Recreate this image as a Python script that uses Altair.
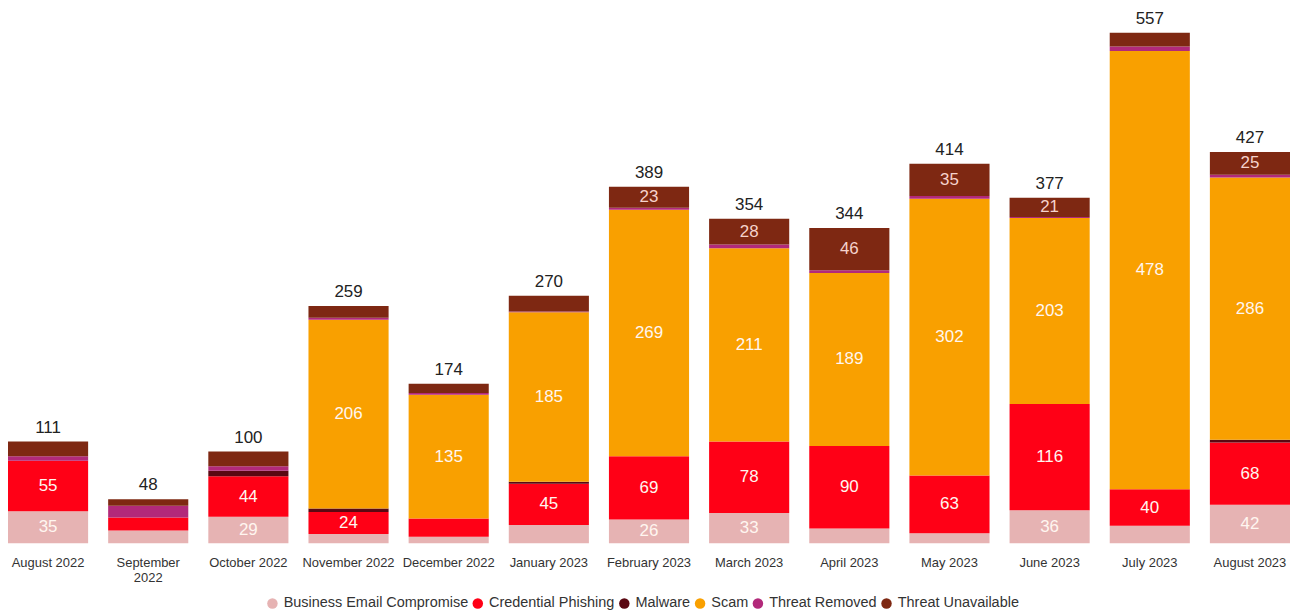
import altair as alt
import pandas as pd

months = ["August 2022", "September 2022", "October 2022", "November 2022",
          "December 2022", "January 2023", "February 2023", "March 2023",
          "April 2023", "May 2023", "June 2023", "July 2023", "August 2023"]

categories = ["Business Email Compromise", "Credential Phishing", "Malware",
              "Scam", "Threat Removed", "Threat Unavailable"]
colors = ["#E6B3B3", "#FF0016", "#5A0812", "#F9A000", "#B2297A", "#7E2812"]

bec = [35, 14, 29, 10, 7, 20, 26, 33, 16, 11, 36, 19, 42]
cred_phishing = [55, 14, 44, 24, 20, 45, 69, 78, 90, 63, 116, 40, 68]
malware = [0, 0, 6, 4, 0, 2, 0, 0, 0, 0, 0, 0, 3]
scam = [0, 0, 0, 206, 135, 185, 269, 211, 189, 302, 203, 478, 286]
threat_removed = [5, 13, 5, 2, 2, 1, 2, 4, 3, 3, 1, 5, 3]
threat_unavailable = [16, 7, 16, 13, 10, 17, 23, 28, 46, 35, 21, 15, 25]

series = [bec, cred_phishing, malware, scam, threat_removed, threat_unavailable]

rows = []
for ci, (cat, vals) in enumerate(zip(categories, series)):
    for m, v in zip(months, vals):
        rows.append({"month": m, "category": cat, "order": ci, "value": v})
df = pd.DataFrame(rows)

FONT = "Liberation Sans"

base = alt.Chart(df).transform_filter("datum.value > 0").transform_stack(
    stack="value", groupby=["month"], sort=[alt.SortField("order")], as_=["y0", "y1"]
)

xenc = alt.X("month:N", sort=months, title=None,
             scale=alt.Scale(paddingInner=0.2, paddingOuter=0.0),
             axis=alt.Axis(labelAngle=0, domain=False, ticks=False, labelPadding=13,
                           labelFontSize=13, labelColor="#333333", labelFont=FONT,
                           labelLineHeight=15,
                           labelExpr="datum.value == 'September 2022' ? ['September', '2022'] : datum.value"))
yscale = alt.Scale(domain=[0, 583], nice=False)

bars = base.mark_bar().encode(
    x=xenc,
    y=alt.Y("y0:Q", scale=yscale, axis=None),
    y2="y1:Q",
    color=alt.Color("category:N", sort=categories,
                    scale=alt.Scale(domain=categories, range=colors),
                    legend=alt.Legend(title=None, orient="none", direction="horizontal",
                                      legendX=258, legendY=589, symbolType="circle",
                                      symbolSize=110, symbolStrokeWidth=0,
                                      labelFontSize=14.5, labelFont=FONT, labelLimit=400,
                                      labelColor="#333333", columnPadding=2,
                                      labelOffset=4, padding=0)),
)

seg_labels = base.transform_filter("datum.value >= 21").transform_calculate(
    mid="(datum.y0 + datum.y1) / 2",
    tcol="datum.category == 'Threat Unavailable' ? '#F6D3CC' : '#FFF6F0'",
).mark_text(fontSize=17, font=FONT, baseline="middle").encode(
    x=alt.X("month:N", sort=months),
    y=alt.Y("mid:Q", scale=yscale),
    text="value:Q",
    color=alt.Color("tcol:N", scale=None),
)

totals = alt.Chart(df).transform_aggregate(
    total="sum(value)", groupby=["month"]
).mark_text(fontSize=17, font=FONT, baseline="bottom", dy=-5, color="#222222").encode(
    x=alt.X("month:N", sort=months),
    y=alt.Y("total:Q", scale=yscale),
    text="total:Q",
)

chart = alt.layer(bars, seg_labels, totals).properties(
    width=1286, height=536,
    padding={"left": 0, "right": 0, "top": 0, "bottom": 0},
    background="white",
).configure_view(stroke=None, strokeWidth=0)

chart.save("out.html", embed_options={"renderer": "svg", "actions": False})
